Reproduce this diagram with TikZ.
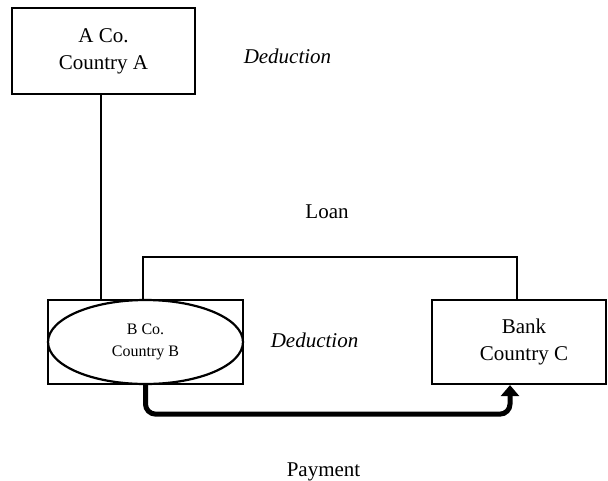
\documentclass[tikz,border=0pt]{standalone}
\usepackage{fontspec}
\setmainfont{Liberation Serif}
\usetikzlibrary{arrows.meta,shapes.geometric}
\begin{document}
\begin{tikzpicture}[x=1pt,y=-1pt,
  box/.style={draw,line width=2.2pt,inner sep=0pt,align=center,font=\fontsize{21}{27}\selectfont},
  lbl/.style={font=\fontsize{21}{27}\selectfont,anchor=base},
  wire/.style={line width=1.4pt},
  pay/.style={line width=5pt,rounded corners=10pt,-{Triangle[length=11pt,width=18pt]}}]
\useasboundingbox (0,0) rectangle (608,480);
\node[box,minimum width=183pt,minimum height=86pt] (aco) at (103.5,51) {\raisebox{3pt}{\begin{tabular}{@{}c@{}}A Co.\\Country A\end{tabular}}};
\node[box,minimum width=195pt,minimum height=84pt] (bbox) at (145.5,342) {};
\node[draw,ellipse,line width=2.2pt,inner sep=0pt,minimum width=195pt,minimum height=84pt,
      align=center,font=\fontsize{16}{21.5}\selectfont] (bell) at (145.5,342) {B Co.\\Country B};
\node[box,minimum width=174pt,minimum height=84pt] (bank) at (519,342) {\hspace*{10pt}Bank\\\hspace*{10pt}Country C};
\node[lbl] (ded1) at (287.5,63) {\itshape Deduction};
\node[lbl] (loan) at (327,218) {Loan};
\node[lbl] (ded2) at (314.5,347) {\itshape Deduction};
\node[lbl] (paylbl) at (323.5,476) {Payment};
\coordinate (ax) at (101,0);
\draw[wire] (aco.south -| ax) -- (bbox.north -| ax);
\draw[wire] ([xshift=-2.5pt]bbox.north) -- ++(0,-42) -| ([xshift=-2pt]bank.north);
\draw[pay] (bell.south) -- ++(0,29) -| ([xshift=-9pt]bank.south);
\end{tikzpicture}
\end{document}
